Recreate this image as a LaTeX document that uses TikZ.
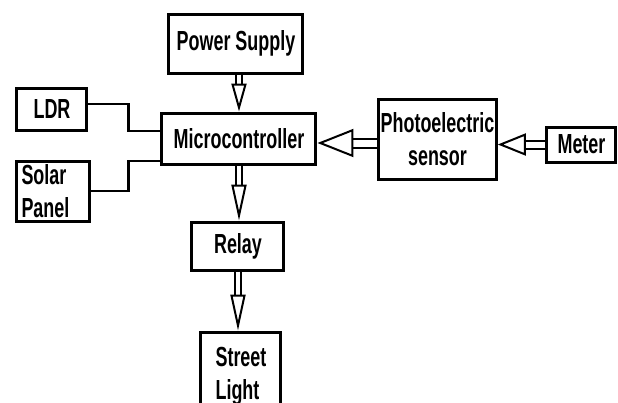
\documentclass[tikz,border=0pt]{standalone}
\usepackage{fontspec}
\setmainfont{Liberation Sans}[FakeStretch=0.65]
\usetikzlibrary{arrows.meta,positioning,calc}

\tikzset{
  block/.style={draw, line width=1.5pt, inner sep=1pt, font=\bfseries\fontsize{13.8}{16.5}\selectfont},
  wire/.style={line width=1.2pt},
  hollow/.style n args={3}{double, double distance=#1, line width=1pt, -{Triangle[open, length=#2, width=#3]}},
}

\begin{document}
\begin{tikzpicture}[x=0.5pt, y=-0.5pt]
  \useasboundingbox (0,0) rectangle (618,403);
  \clip (0,0) rectangle (618,403);
  % blocks
  \node[block, minimum width=67pt, minimum height=29.5pt] (ps) at (236,43.5) {Power Supply};
  \node[block, minimum width=77pt, minimum height=25.5pt] (mc) at (239,138.5) {Microcontroller};
  \node[block, minimum width=35pt, minimum height=21pt] (ldr) at (52,109) {LDR};
  \node[block, minimum width=36.5pt, minimum height=30pt, align=left, text width=32pt] (solar) at (53.5,191) {Solar\\Panel};
  \node[block, minimum width=58.5pt, minimum height=40pt, align=center] (ph) at (437.5,139) {Photoelectric\\sensor};
  \node[block, minimum width=34.5pt, minimum height=17.5pt] (meter) at (581.5,144.5) {Meter};
  \node[block, minimum width=46pt, minimum height=24pt] (relay) at (238,246) {Relay};
  \node[block, minimum width=40pt, minimum height=44pt, align=left] (sl) at (241,376) {Street\\Light};
  % inputs
  \draw[wire] ([yshift=2.5pt]ldr.east) -- ++(40,0) |- ([yshift=3.75pt]mc.west);
  \draw[wire] (solar.east) -- ++(37,0) |- ([yshift=-11.25pt]mc.west);
  % hollow arrows
  \draw[hollow={2pt}{14pt}{7.5pt}] (mc.north |- ps.south) -- (mc.north);
  \draw[hollow={2pt}{18pt}{7.5pt}] (mc.south) -- (mc.south |- relay.north);
  \draw[hollow={2pt}{18pt}{7.5pt}] (relay.south) -- (relay.south |- sl.north);
  \draw[hollow={3.5pt}{18pt}{14pt}] ([yshift=-2pt]ph.west) -- ([yshift=-2pt]ph.west -| mc.east);
  \draw[hollow={3pt}{14pt}{11pt}] (meter.west) -- (meter.west -| ph.east);
\end{tikzpicture}
\end{document}
